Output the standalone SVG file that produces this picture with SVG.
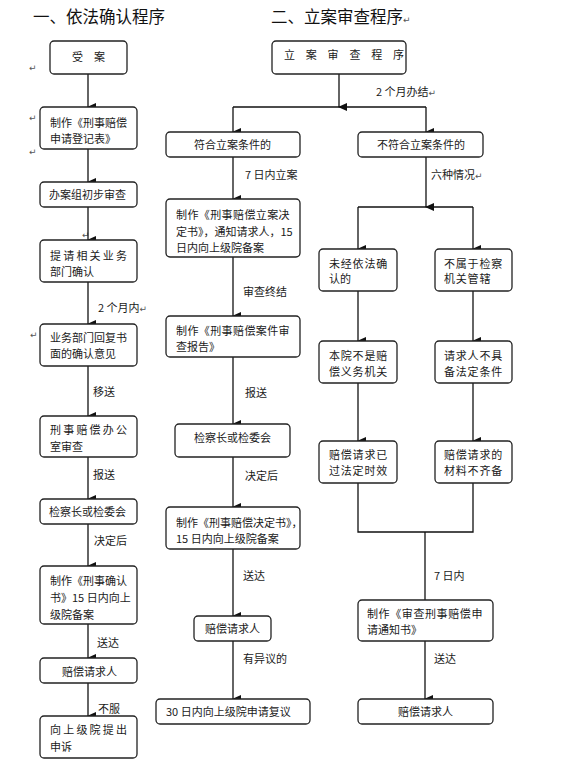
<svg xmlns="http://www.w3.org/2000/svg" width="564" height="759" viewBox="0 0 564 759">
<style>
.box{fill:#fff;stroke:#222;stroke-width:1.3}
.t{font-family:"Noto Sans CJK SC","Noto Sans",sans-serif;font-size:11px;fill:#1a1a1a}
.h{font-family:"Noto Sans CJK SC","Noto Sans",sans-serif;font-size:16.5px;fill:#111}
.m{font-family:"DejaVu Sans",sans-serif;font-size:9px;fill:#555}
.ln{fill:none;stroke:#111;stroke-width:1.3}
.ar{fill:none;stroke:#111;stroke-width:1.3;marker-end:url(#ah)}
</style>
<defs>
<marker id="ah" markerUnits="userSpaceOnUse" markerWidth="8" markerHeight="9" refX="4" refY="8" orient="auto-start-reverse" viewBox="0 0 8 9">
<path d="M0,0 L8,0 L4,9 Z" fill="#111" transform="rotate(0)"/>
</marker>
</defs>
<rect width="564" height="759" fill="#fff"/>

<text class="h" x="33" y="23">一、依法确认程序</text>
<text class="h" x="271" y="23">二、立案审查程序<tspan class="m" dy="0">↵</tspan></text>

<!-- stray paragraph marks -->
<text class="m" x="29" y="71">↵</text>
<text class="m" x="29" y="121">↵</text>
<text class="m" x="29" y="155">↵</text>
<text class="m" x="82" y="238">↵</text>
<text class="m" x="30" y="338">↵</text>

<g id="connectors">
<!-- left column (marker points down; use vertical lines) -->
<path class="ar" d="M88,74 V107"/>
<path class="ar" d="M88,149 V182"/>
<path class="ar" d="M88,207 V240"/>
<path class="ar" d="M88,282 V324"/>
<path class="ar" d="M88,366 V416"/>
<path class="ar" d="M88,457 V499"/>
<path class="ar" d="M88,524 V566"/>
<path class="ar" d="M88,624 V658"/>
<path class="ar" d="M88,683 V716"/>
<!-- center top -->
<path class="ar" d="M339,74 V107"/>
<path class="ln" d="M233,107 H426"/>
<path class="ar" d="M233,107 V132"/>
<path class="ar" d="M426,107 V132"/>
<!-- center column -->
<path class="ar" d="M233,157 V199"/>
<path class="ar" d="M233,257 V316"/>
<path class="ar" d="M233,357 V424"/>
<path class="ar" d="M233,457 V507"/>
<path class="ar" d="M233,549 V616"/>
<path class="ar" d="M233,641 V699"/>
<!-- right column -->
<path class="ar" d="M426,157 V207"/>
<path class="ln" d="M358,207 H473"/>
<path class="ar" d="M358,207 V249"/>
<path class="ar" d="M473,207 V249"/>
<path class="ar" d="M358,291 V341"/>
<path class="ar" d="M473,291 V341"/>
<path class="ar" d="M358,383 V441"/>
<path class="ar" d="M473,383 V441"/>
<path class="ln" d="M358,483 V532 H473 V483"/>
<path class="ln" d="M425,532 V600"/>
<path class="ar" d="M425,641 V699"/>

<!-- connector labels -->
<text class="t" x="98" y="312">2 个月内<tspan class="m">↵</tspan></text>
<text class="t" x="93" y="396">移送</text>
<text class="t" x="93" y="479">报送</text>
<text class="t" x="94" y="545">决定后</text>
<text class="t" x="97" y="647">送达</text>
<text class="t" x="98" y="713">不服</text>
<text class="t" x="376" y="96">2 个月办结<tspan class="m">↵</tspan></text>
<text class="t" x="245" y="179">7 日内立案</text>
<text class="t" x="243" y="296">审查终结</text>
<text class="t" x="245" y="397">报送</text>
<text class="t" x="245" y="480">决定后</text>
<text class="t" x="243" y="580">送达</text>
<text class="t" x="243" y="663">有异议的</text>
<text class="t" x="431" y="179">六种情况<tspan class="m">↵</tspan></text>
<text class="t" x="434" y="580">7 日内</text>
<text class="t" x="434" y="663">送达</text>
</g>

<!-- left column nodes -->
<g id="n_shouan"><rect class="box" x="50" y="41" width="77" height="33" rx="4"/><text class="t" x="72" y="61">受</text><text class="t" x="94" y="61">案</text></g>
<g id="n_dengji"><rect class="box" x="40" y="107" width="97" height="42" rx="4"/><text class="t" x="50" y="127">制作《刑事赔偿</text><text class="t" x="50" y="143">申请登记表》</text></g>
<g id="n_chubu"><rect class="box" x="40" y="182" width="97" height="25" rx="4"/><text class="t" x="49" y="199">办案组初步审查</text></g>
<g id="n_tiqing"><rect class="box" x="40" y="240" width="97" height="42" rx="4"/><text class="t" x="50" y="260" letter-spacing="2.2">提请相关业务</text><text class="t" x="50" y="276">部门确认</text></g>
<g id="n_huifu"><rect class="box" x="40" y="324" width="97" height="42" rx="4"/><text class="t" x="50" y="342">业务部门回复书</text><text class="t" x="50" y="358">面的确认意见</text></g>
<g id="n_bangongshi"><rect class="box" x="40" y="416" width="97" height="41" rx="4"/><text class="t" x="50" y="434" letter-spacing="2.2">刑事赔偿办公</text><text class="t" x="50" y="451">室审查</text></g>
<g id="n_jianchazhang1"><rect class="box" x="40" y="499" width="97" height="25" rx="4"/><text class="t" x="49" y="516">检察长或检委会</text></g>
<g id="n_querenshu"><rect class="box" x="40" y="566" width="97" height="58" rx="4"/><text class="t" x="50" y="585">制作《刑事确认</text><text class="t" x="50" y="602">书》15 日内向上</text><text class="t" x="50" y="619">级院备案</text></g>
<g id="n_qingqiuren1"><rect class="box" x="40" y="658" width="97" height="25" rx="4"/><text class="t" x="62" y="676">赔偿请求人</text></g>
<g id="n_shensu"><rect class="box" x="40" y="716" width="97" height="42" rx="4"/><text class="t" x="50" y="734" letter-spacing="2.2">向上级院提出</text><text class="t" x="50" y="751">申诉</text></g>

<!-- center column nodes -->
<g id="n_lianshencha"><rect class="box" x="272" y="41" width="134" height="33" rx="4"/><text class="t" x="284" y="59" letter-spacing="10.8">立案审查程序</text></g>
<g id="n_fuhe"><rect class="box" x="166" y="132" width="134" height="25" rx="4"/><text class="t" x="194" y="149">符合立案条件的</text></g>
<g id="n_lianjueding"><rect class="box" x="166" y="199" width="134" height="58" rx="4"/><text class="t" x="176" y="219" letter-spacing="0.4">制作《刑事赔偿立案决</text><text class="t" x="176" y="236">定书》，通知请求人，15</text><text class="t" x="176" y="252">日内向上级院备案</text></g>
<g id="n_baogao"><rect class="box" x="166" y="316" width="134" height="41" rx="4"/><text class="t" x="176" y="335" letter-spacing="0.4">制作《刑事赔偿案件审</text><text class="t" x="176" y="351">查报告》</text></g>
<g id="n_jianchazhang2"><rect class="box" x="175" y="424" width="115" height="33" rx="4"/><text class="t" x="194" y="442">检察长或检委会</text></g>
<g id="n_juedingshu"><rect class="box" x="166" y="507" width="134" height="42" rx="4"/><text class="t" x="176" y="527">制作《刑事赔偿决定书》，</text><text class="t" x="176" y="543">15 日内向上级院备案</text></g>
<g id="n_qingqiuren2"><rect class="box" x="194" y="616" width="77" height="25" rx="4"/><text class="t" x="205" y="633">赔偿请求人</text></g>
<g id="n_fuyi"><rect class="box" x="156" y="699" width="154" height="25" rx="4"/><text class="t" x="166" y="716">30 日内向上级院申请复议</text></g>

<!-- right column nodes -->
<g id="n_bufuhe"><rect class="box" x="358" y="132" width="125" height="25" rx="4"/><text class="t" x="377" y="149">不符合立案条件的</text></g>
<g id="n_weijing"><rect class="box" x="319" y="249" width="78" height="42" rx="4"/><text class="t" x="329" y="268" letter-spacing="0.8">未经依法确</text><text class="t" x="329" y="283">认的</text></g>
<g id="n_bushuyu"><rect class="box" x="435" y="249" width="77" height="42" rx="4"/><text class="t" x="444" y="268" letter-spacing="0.8">不属于检察</text><text class="t" x="444" y="283" letter-spacing="0.8">机关管辖</text></g>
<g id="n_benyuan"><rect class="box" x="319" y="341" width="78" height="42" rx="4"/><text class="t" x="329" y="360" letter-spacing="0.8">本院不是赔</text><text class="t" x="329" y="376" letter-spacing="0.8">偿义务机关</text></g>
<g id="n_bujubei"><rect class="box" x="435" y="341" width="77" height="42" rx="4"/><text class="t" x="444" y="360" letter-spacing="0.8">请求人不具</text><text class="t" x="444" y="376" letter-spacing="0.8">备法定条件</text></g>
<g id="n_shixiao"><rect class="box" x="319" y="441" width="78" height="42" rx="4"/><text class="t" x="329" y="459" letter-spacing="0.8">赔偿请求已</text><text class="t" x="329" y="475" letter-spacing="0.8">过法定时效</text></g>
<g id="n_cailiao"><rect class="box" x="435" y="441" width="77" height="42" rx="4"/><text class="t" x="444" y="459" letter-spacing="0.8">赔偿请求的</text><text class="t" x="444" y="475" letter-spacing="0.8">材料不齐备</text></g>
<g id="n_tongzhishu"><rect class="box" x="358" y="600" width="135" height="41" rx="4"/><text class="t" x="367" y="618" letter-spacing="0.6">制作《审查刑事赔偿申</text><text class="t" x="367" y="634">请通知书》</text></g>
<g id="n_qingqiuren3"><rect class="box" x="358" y="699" width="135" height="25" rx="4"/><text class="t" x="398" y="716">赔偿请求人</text></g>
</svg>
